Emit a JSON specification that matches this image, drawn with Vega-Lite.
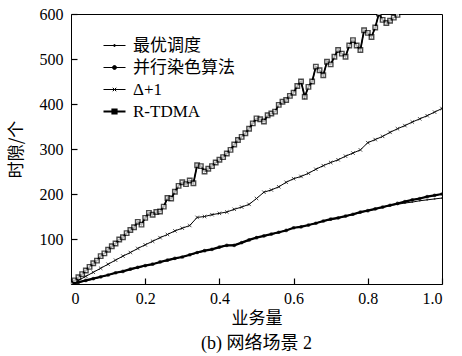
{
  "$schema": "https://vega.github.io/schema/vega-lite/v6.json",
  "width": 371,
  "height": 270,
  "autosize": {"type": "none"},
  "padding": {"left": 71, "top": 14, "right": 20, "bottom": 72},
  "background": "white",
  "config": {
    "view": {"stroke": "black", "strokeWidth": 1},
    "axis": {
      "labelFont": "Liberation Serif",
      "labelFontSize": 16,
      "labelColor": "black",
      "domain": false,
      "grid": false,
      "zindex": 1,
      "titleFont": "Noto Sans CJK SC",
      "titleFontSize": 17,
      "titleFontWeight": "normal",
      "titleColor": "black"
    }
  },
  "title": {
    "text": "(b) 网络场景 2",
    "orient": "bottom",
    "font": "'Liberation Serif', 'Noto Sans CJK SC'",
    "fontSize": 18,
    "fontWeight": "normal",
    "color": "black",
    "offset": 9
  },
  "data": {
    "values": [
      {"series": "最优调度", "x": 0, "y": 0}, {"series": "最优调度", "x": 0.02, "y": 3}, {"series": "最优调度", "x": 0.04, "y": 7}, {"series": "最优调度", "x": 0.06, "y": 11}, {"series": "最优调度", "x": 0.08, "y": 15}, {"series": "最优调度", "x": 0.1, "y": 20}, {"series": "最优调度", "x": 0.12, "y": 24}, {"series": "最优调度", "x": 0.14, "y": 28}, {"series": "最优调度", "x": 0.16, "y": 32}, {"series": "最优调度", "x": 0.18, "y": 36}, {"series": "最优调度", "x": 0.2, "y": 40}, {"series": "最优调度", "x": 0.22, "y": 44}, {"series": "最优调度", "x": 0.24, "y": 48}, {"series": "最优调度", "x": 0.26, "y": 52}, {"series": "最优调度", "x": 0.28, "y": 56}, {"series": "最优调度", "x": 0.3, "y": 61}, {"series": "最优调度", "x": 0.32, "y": 64}, {"series": "最优调度", "x": 0.34, "y": 69}, {"series": "最优调度", "x": 0.36, "y": 73}, {"series": "最优调度", "x": 0.38, "y": 78}, {"series": "最优调度", "x": 0.4, "y": 81}, {"series": "最优调度", "x": 0.42, "y": 85}, {"series": "最优调度", "x": 0.44, "y": 87}, {"series": "最优调度", "x": 0.46, "y": 91}, {"series": "最优调度", "x": 0.48, "y": 97}, {"series": "最优调度", "x": 0.5, "y": 104}, {"series": "最优调度", "x": 0.52, "y": 106}, {"series": "最优调度", "x": 0.54, "y": 110}, {"series": "最优调度", "x": 0.56, "y": 114}, {"series": "最优调度", "x": 0.58, "y": 120}, {"series": "最优调度", "x": 0.6, "y": 124}, {"series": "最优调度", "x": 0.62, "y": 128}, {"series": "最优调度", "x": 0.64, "y": 130}, {"series": "最优调度", "x": 0.66, "y": 136}, {"series": "最优调度", "x": 0.68, "y": 139}, {"series": "最优调度", "x": 0.7, "y": 143}, {"series": "最优调度", "x": 0.72, "y": 146}, {"series": "最优调度", "x": 0.74, "y": 150}, {"series": "最优调度", "x": 0.76, "y": 154}, {"series": "最优调度", "x": 0.78, "y": 158}, {"series": "最优调度", "x": 0.8, "y": 163}, {"series": "最优调度", "x": 0.82, "y": 166}, {"series": "最优调度", "x": 0.84, "y": 170}, {"series": "最优调度", "x": 0.86, "y": 174}, {"series": "最优调度", "x": 0.88, "y": 177}, {"series": "最优调度", "x": 0.9, "y": 180}, {"series": "最优调度", "x": 0.92, "y": 182}, {"series": "最优调度", "x": 0.94, "y": 185}, {"series": "最优调度", "x": 0.96, "y": 187}, {"series": "最优调度", "x": 0.98, "y": 189}, {"series": "最优调度", "x": 1.0, "y": 191},

      {"series": "并行染色算法", "x": 0, "y": 0}, {"series": "并行染色算法", "x": 0.02, "y": 4}, {"series": "并行染色算法", "x": 0.04, "y": 8}, {"series": "并行染色算法", "x": 0.06, "y": 12}, {"series": "并行染色算法", "x": 0.08, "y": 16}, {"series": "并行染色算法", "x": 0.1, "y": 20}, {"series": "并行染色算法", "x": 0.12, "y": 25}, {"series": "并行染色算法", "x": 0.14, "y": 28}, {"series": "并行染色算法", "x": 0.16, "y": 33}, {"series": "并行染色算法", "x": 0.18, "y": 37}, {"series": "并行染色算法", "x": 0.2, "y": 41}, {"series": "并行染色算法", "x": 0.22, "y": 44}, {"series": "并行染色算法", "x": 0.24, "y": 49}, {"series": "并行染色算法", "x": 0.26, "y": 53}, {"series": "并行染色算法", "x": 0.28, "y": 57}, {"series": "并行染色算法", "x": 0.3, "y": 60}, {"series": "并行染色算法", "x": 0.32, "y": 65}, {"series": "并行染色算法", "x": 0.34, "y": 70}, {"series": "并行染色算法", "x": 0.36, "y": 74}, {"series": "并行染色算法", "x": 0.38, "y": 77}, {"series": "并行染色算法", "x": 0.4, "y": 82}, {"series": "并行染色算法", "x": 0.42, "y": 86}, {"series": "并行染色算法", "x": 0.44, "y": 86}, {"series": "并行染色算法", "x": 0.46, "y": 92}, {"series": "并行染色算法", "x": 0.48, "y": 98}, {"series": "并行染色算法", "x": 0.5, "y": 103}, {"series": "并行染色算法", "x": 0.52, "y": 107}, {"series": "并行染色算法", "x": 0.54, "y": 111}, {"series": "并行染色算法", "x": 0.56, "y": 115}, {"series": "并行染色算法", "x": 0.58, "y": 119}, {"series": "并行染色算法", "x": 0.6, "y": 125}, {"series": "并行染色算法", "x": 0.62, "y": 127}, {"series": "并行染色算法", "x": 0.64, "y": 131}, {"series": "并行染色算法", "x": 0.66, "y": 135}, {"series": "并行染色算法", "x": 0.68, "y": 140}, {"series": "并行染色算法", "x": 0.7, "y": 144}, {"series": "并行染色算法", "x": 0.72, "y": 147}, {"series": "并行染色算法", "x": 0.74, "y": 151}, {"series": "并行染色算法", "x": 0.76, "y": 155}, {"series": "并行染色算法", "x": 0.78, "y": 160}, {"series": "并行染色算法", "x": 0.8, "y": 163}, {"series": "并行染色算法", "x": 0.82, "y": 167}, {"series": "并行染色算法", "x": 0.84, "y": 171}, {"series": "并行染色算法", "x": 0.86, "y": 175}, {"series": "并行染色算法", "x": 0.88, "y": 179}, {"series": "并行染色算法", "x": 0.9, "y": 183}, {"series": "并行染色算法", "x": 0.92, "y": 187}, {"series": "并行染色算法", "x": 0.94, "y": 190}, {"series": "并行染色算法", "x": 0.96, "y": 194}, {"series": "并行染色算法", "x": 0.98, "y": 197}, {"series": "并行染色算法", "x": 1.0, "y": 200},

      {"series": "Δ+1", "x": 0, "y": 0}, {"series": "Δ+1", "x": 0.02, "y": 8}, {"series": "Δ+1", "x": 0.04, "y": 17}, {"series": "Δ+1", "x": 0.06, "y": 26}, {"series": "Δ+1", "x": 0.08, "y": 35}, {"series": "Δ+1", "x": 0.1, "y": 44}, {"series": "Δ+1", "x": 0.12, "y": 53}, {"series": "Δ+1", "x": 0.14, "y": 62}, {"series": "Δ+1", "x": 0.16, "y": 70}, {"series": "Δ+1", "x": 0.18, "y": 79}, {"series": "Δ+1", "x": 0.2, "y": 87}, {"series": "Δ+1", "x": 0.22, "y": 95}, {"series": "Δ+1", "x": 0.24, "y": 103}, {"series": "Δ+1", "x": 0.26, "y": 110}, {"series": "Δ+1", "x": 0.28, "y": 118}, {"series": "Δ+1", "x": 0.3, "y": 124}, {"series": "Δ+1", "x": 0.32, "y": 130}, {"series": "Δ+1", "x": 0.34, "y": 148}, {"series": "Δ+1", "x": 0.36, "y": 150}, {"series": "Δ+1", "x": 0.38, "y": 154}, {"series": "Δ+1", "x": 0.4, "y": 157}, {"series": "Δ+1", "x": 0.42, "y": 160}, {"series": "Δ+1", "x": 0.44, "y": 166}, {"series": "Δ+1", "x": 0.46, "y": 171}, {"series": "Δ+1", "x": 0.48, "y": 177}, {"series": "Δ+1", "x": 0.5, "y": 190}, {"series": "Δ+1", "x": 0.52, "y": 204}, {"series": "Δ+1", "x": 0.54, "y": 209}, {"series": "Δ+1", "x": 0.56, "y": 216}, {"series": "Δ+1", "x": 0.58, "y": 226}, {"series": "Δ+1", "x": 0.6, "y": 234}, {"series": "Δ+1", "x": 0.62, "y": 239}, {"series": "Δ+1", "x": 0.64, "y": 246}, {"series": "Δ+1", "x": 0.66, "y": 255}, {"series": "Δ+1", "x": 0.68, "y": 263}, {"series": "Δ+1", "x": 0.7, "y": 270}, {"series": "Δ+1", "x": 0.72, "y": 276}, {"series": "Δ+1", "x": 0.74, "y": 284}, {"series": "Δ+1", "x": 0.76, "y": 291}, {"series": "Δ+1", "x": 0.78, "y": 298}, {"series": "Δ+1", "x": 0.8, "y": 314}, {"series": "Δ+1", "x": 0.82, "y": 321}, {"series": "Δ+1", "x": 0.84, "y": 328}, {"series": "Δ+1", "x": 0.86, "y": 337}, {"series": "Δ+1", "x": 0.88, "y": 345}, {"series": "Δ+1", "x": 0.9, "y": 352}, {"series": "Δ+1", "x": 0.92, "y": 360}, {"series": "Δ+1", "x": 0.94, "y": 367}, {"series": "Δ+1", "x": 0.96, "y": 374}, {"series": "Δ+1", "x": 0.98, "y": 382}, {"series": "Δ+1", "x": 1.0, "y": 390},

      {"series": "R-TDMA", "x": 0, "y": 0}, {"series": "R-TDMA", "x": 0.01, "y": 8}, {"series": "R-TDMA", "x": 0.02, "y": 15}, {"series": "R-TDMA", "x": 0.03, "y": 22}, {"series": "R-TDMA", "x": 0.04, "y": 30}, {"series": "R-TDMA", "x": 0.05, "y": 38}, {"series": "R-TDMA", "x": 0.06, "y": 46}, {"series": "R-TDMA", "x": 0.07, "y": 52}, {"series": "R-TDMA", "x": 0.08, "y": 62}, {"series": "R-TDMA", "x": 0.09, "y": 68}, {"series": "R-TDMA", "x": 0.1, "y": 76}, {"series": "R-TDMA", "x": 0.11, "y": 84}, {"series": "R-TDMA", "x": 0.12, "y": 90}, {"series": "R-TDMA", "x": 0.13, "y": 99}, {"series": "R-TDMA", "x": 0.14, "y": 104}, {"series": "R-TDMA", "x": 0.15, "y": 113}, {"series": "R-TDMA", "x": 0.16, "y": 120}, {"series": "R-TDMA", "x": 0.17, "y": 126}, {"series": "R-TDMA", "x": 0.18, "y": 138}, {"series": "R-TDMA", "x": 0.19, "y": 132}, {"series": "R-TDMA", "x": 0.2, "y": 147}, {"series": "R-TDMA", "x": 0.21, "y": 158}, {"series": "R-TDMA", "x": 0.22, "y": 154}, {"series": "R-TDMA", "x": 0.23, "y": 160}, {"series": "R-TDMA", "x": 0.24, "y": 161}, {"series": "R-TDMA", "x": 0.25, "y": 172}, {"series": "R-TDMA", "x": 0.26, "y": 191}, {"series": "R-TDMA", "x": 0.27, "y": 190}, {"series": "R-TDMA", "x": 0.28, "y": 205}, {"series": "R-TDMA", "x": 0.29, "y": 218}, {"series": "R-TDMA", "x": 0.3, "y": 226}, {"series": "R-TDMA", "x": 0.31, "y": 222}, {"series": "R-TDMA", "x": 0.32, "y": 230}, {"series": "R-TDMA", "x": 0.33, "y": 224}, {"series": "R-TDMA", "x": 0.34, "y": 264}, {"series": "R-TDMA", "x": 0.35, "y": 262}, {"series": "R-TDMA", "x": 0.36, "y": 250}, {"series": "R-TDMA", "x": 0.37, "y": 256}, {"series": "R-TDMA", "x": 0.38, "y": 262}, {"series": "R-TDMA", "x": 0.39, "y": 270}, {"series": "R-TDMA", "x": 0.4, "y": 276}, {"series": "R-TDMA", "x": 0.41, "y": 282}, {"series": "R-TDMA", "x": 0.42, "y": 290}, {"series": "R-TDMA", "x": 0.43, "y": 298}, {"series": "R-TDMA", "x": 0.44, "y": 310}, {"series": "R-TDMA", "x": 0.45, "y": 320}, {"series": "R-TDMA", "x": 0.46, "y": 327}, {"series": "R-TDMA", "x": 0.47, "y": 335}, {"series": "R-TDMA", "x": 0.48, "y": 345}, {"series": "R-TDMA", "x": 0.49, "y": 357}, {"series": "R-TDMA", "x": 0.5, "y": 368}, {"series": "R-TDMA", "x": 0.51, "y": 366}, {"series": "R-TDMA", "x": 0.52, "y": 361}, {"series": "R-TDMA", "x": 0.53, "y": 375}, {"series": "R-TDMA", "x": 0.54, "y": 379}, {"series": "R-TDMA", "x": 0.55, "y": 383}, {"series": "R-TDMA", "x": 0.56, "y": 398}, {"series": "R-TDMA", "x": 0.57, "y": 405}, {"series": "R-TDMA", "x": 0.58, "y": 409}, {"series": "R-TDMA", "x": 0.59, "y": 418}, {"series": "R-TDMA", "x": 0.6, "y": 425}, {"series": "R-TDMA", "x": 0.61, "y": 440}, {"series": "R-TDMA", "x": 0.62, "y": 450}, {"series": "R-TDMA", "x": 0.63, "y": 416}, {"series": "R-TDMA", "x": 0.64, "y": 438}, {"series": "R-TDMA", "x": 0.65, "y": 450}, {"series": "R-TDMA", "x": 0.66, "y": 483}, {"series": "R-TDMA", "x": 0.67, "y": 475}, {"series": "R-TDMA", "x": 0.68, "y": 464}, {"series": "R-TDMA", "x": 0.69, "y": 494}, {"series": "R-TDMA", "x": 0.7, "y": 488}, {"series": "R-TDMA", "x": 0.71, "y": 505}, {"series": "R-TDMA", "x": 0.72, "y": 520}, {"series": "R-TDMA", "x": 0.73, "y": 512}, {"series": "R-TDMA", "x": 0.74, "y": 505}, {"series": "R-TDMA", "x": 0.75, "y": 530}, {"series": "R-TDMA", "x": 0.76, "y": 542}, {"series": "R-TDMA", "x": 0.77, "y": 530}, {"series": "R-TDMA", "x": 0.78, "y": 520}, {"series": "R-TDMA", "x": 0.79, "y": 564}, {"series": "R-TDMA", "x": 0.8, "y": 558}, {"series": "R-TDMA", "x": 0.81, "y": 549}, {"series": "R-TDMA", "x": 0.82, "y": 570}, {"series": "R-TDMA", "x": 0.83, "y": 601}, {"series": "R-TDMA", "x": 0.84, "y": 587}, {"series": "R-TDMA", "x": 0.85, "y": 580}, {"series": "R-TDMA", "x": 0.86, "y": 585}, {"series": "R-TDMA", "x": 0.87, "y": 592}, {"series": "R-TDMA", "x": 0.88, "y": 598}, {"series": "R-TDMA", "x": 0.89, "y": 615}, {"series": "R-TDMA", "x": 0.9, "y": 630}
    ]
  },
  "encoding": {
    "x": {
      "field": "x",
      "type": "quantitative",
      "scale": {"domain": [0, 1], "nice": false, "zero": false},
      "axis": {
        "values": [0, 0.2, 0.4, 0.6, 0.8, 1.0],
        "labelExpr": "datum.value == 0 ? '0' : format(datum.value, '.1f')",
        "ticks": true,
        "tickSize": 6,
        "offset": -6,
        "tickWidth": 1.2,
        "tickColor": "black",
        "tickOpacity": 1,
        "labelPadding": 6,
        "title": "业务量",
        "titlePadding": 4
      }
    },
    "y": {
      "field": "y",
      "type": "quantitative",
      "scale": {"domain": [0, 600], "nice": false},
      "axis": {
        "values": [100, 200, 300, 400, 500, 600],
        "ticks": true,
        "tickSize": 6,
        "offset": -6,
        "tickWidth": 1.2,
        "tickColor": "black",
        "tickOpacity": 1,
        "labelPadding": 8,
        "title": "时隙/个",
        "titlePadding": 14
      }
    }
  },
  "layer": [
    {
      "mark": {"type": "line", "strokeWidth": 1, "clip": true},
      "encoding": {
        "color": {
          "field": "series",
          "type": "nominal",
          "scale": {"domain": ["最优调度", "并行染色算法", "Δ+1", "R-TDMA"], "range": ["black", "black", "black", "black"]},
          "legend": {
            "title": null,
            "orient": "none",
            "legendX": 35,
            "legendY": 23,
            "symbolSize": 484,
            "symbolStrokeWidth": 1,
            "symbolStrokeColor": "black",
            "symbolFillColor": "black",
            "labelFont": "'Liberation Serif', 'Noto Sans CJK SC'",
            "labelFontSize": 17,
            "labelColor": "black",
            "labelOffset": 10,
            "labelLimit": 300,
            "rowPadding": 4,
            "encode": {
              "symbols": {
                "update": {
                  "shape": {"signal": "datum.value === 'R-TDMA' ? 'M-1,0H1M-0.2,-0.2H0.2V0.2H-0.2Z' : datum.value === 'Δ+1' ? 'M-1,0H1M-0.16,-0.16L0.16,0.16M-0.16,0.16L0.16,-0.16' : datum.value === '并行染色算法' ? 'M-1,0H1M-0.18,0A0.18,0.18,0,1,1,0.18,0A0.18,0.18,0,1,1,-0.18,0Z' : 'M-1,0H1M-0.09,0A0.09,0.09,0,1,1,0.09,0A0.09,0.09,0,1,1,-0.09,0Z'"},
                  "strokeWidth": {"signal": "datum.value === 'R-TDMA' ? 1.8 : 1"},
                  "fill": {"value": "black"},
                  "stroke": {"value": "black"}
                }
              }
            }
          }
        }
      }
    },
    {
      "transform": [{"filter": {"field": "series", "equal": "并行染色算法"}}],
      "mark": {"type": "line", "strokeWidth": 2.2, "color": "black", "clip": true}
    },
    {
      "transform": [{"filter": {"field": "series", "equal": "R-TDMA"}}],
      "mark": {"type": "line", "strokeWidth": 1.8, "color": "black", "clip": true}
    },
    {
      "transform": [{"filter": {"field": "series", "equal": "最优调度"}}],
      "mark": {"type": "point", "shape": "circle", "size": 3, "filled": true, "color": "black", "clip": true}
    },
    {
      "transform": [{"filter": {"field": "series", "equal": "并行染色算法"}}],
      "mark": {"type": "point", "shape": "circle", "size": 14, "filled": true, "color": "black", "clip": true}
    },
    {
      "transform": [{"filter": {"field": "series", "equal": "Δ+1"}}],
      "mark": {"type": "point", "shape": "M-1,-1L1,1M-1,1L1,-1", "size": 12, "filled": false, "stroke": "black", "strokeWidth": 1, "clip": true}
    },
    {
      "transform": [{"filter": {"field": "series", "equal": "R-TDMA"}}],
      "mark": {"type": "point", "shape": "square", "size": 20, "filled": true, "fill": "white", "stroke": "black", "strokeWidth": 1.4, "clip": true}
    }
  ]
}
